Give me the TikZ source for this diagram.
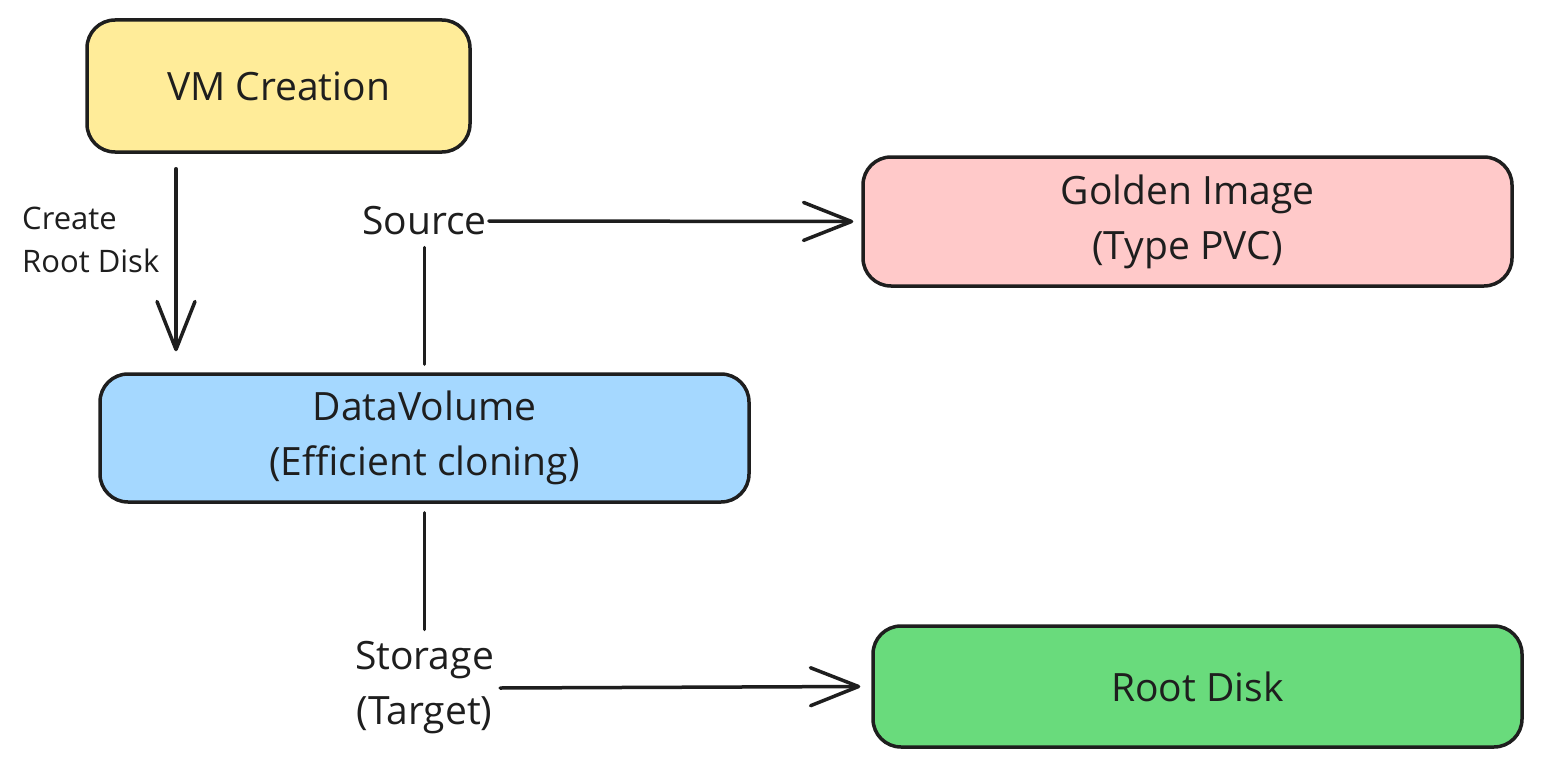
\documentclass[tikz,border=0pt]{standalone}
\usepackage{fontspec}
\setmainfont{Open Sans}
\usetikzlibrary{arrows.meta}
\definecolor{ink}{HTML}{1E1E1E}
\definecolor{cyellow}{HTML}{FFEC99}
\definecolor{cpink}{HTML}{FFC9C9}
\definecolor{cblue}{HTML}{A5D8FF}
\definecolor{cgreen}{HTML}{69DB7C}
\tikzset{
  box/.style={draw=ink, line width=3.5pt, rounded corners=28pt, align=center, text=ink,
    font=\fontsize{39}{55}\selectfont, inner sep=0pt},
  lbl/.style={align=center, text=ink, font=\fontsize{39}{55}\selectfont, inner sep=0pt},
  small/.style={align=left, text=ink, font=\fontsize{31}{43}\selectfont, inner sep=0pt},
  conn/.style={draw=ink, line width=3.5pt, line cap=round},
  arr/.style={conn, -{Straight Barb[length=48pt, width=38pt, line width=3.5pt, round]}},
}
\begin{document}
\begin{tikzpicture}[x=1pt, y=-1pt]
\useasboundingbox[fill=white] (0,0) rectangle (1542,768);
\node[box, fill=cyellow, minimum width=383pt, minimum height=132pt] (vm) at (278.5,86) {VM Creation};
\node[box, fill=cpink, minimum width=649pt, minimum height=129pt] (gold) at (1187.5,221.5) {Golden Image\\(Type PVC)};
\node[box, fill=cblue, minimum width=649pt, minimum height=128pt] (dv) at (424.5,438) {DataVolume\\(Efficient cloning)};
\node[box, fill=cgreen, minimum width=649pt, minimum height=121pt] (root) at (1197.5,686.5) {Root Disk};
\node[lbl] (src) at (424.5,221) {Source};
\node[lbl] (stor) at (424.5,688) {Storage\\(Target)};
\node[small, anchor=west] (crl) at (22,240) {Create\\Root Disk};
\draw[arr] ([xshift=-102.5pt, yshift=-15pt]vm.south) -- ([xshift=-248.5pt, yshift=21pt]dv.north);
\draw[conn] ([yshift=8pt]dv.north) -- ([yshift=-12pt]src.south);
\draw[arr] ([xshift=2pt]src.east) -- ([xshift=-8pt]gold.west);
\draw[conn] ([yshift=-9pt]dv.south) -- ([yshift=12pt]stor.north);
\draw[arr] ([xshift=6pt]stor.east) -- ([xshift=-11pt]root.west);
\end{tikzpicture}
\end{document}
